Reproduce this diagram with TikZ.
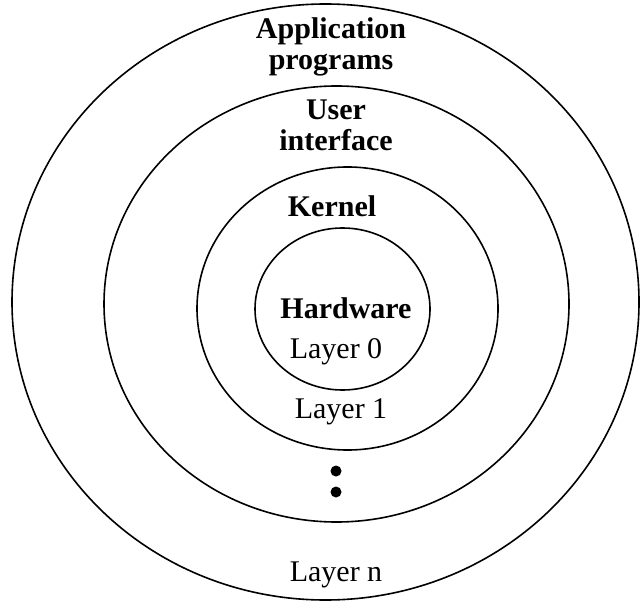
\documentclass[tikz,border=0pt]{standalone}
\usepackage{fontspec}
\setmainfont{Liberation Serif}
\begin{document}
\begin{tikzpicture}[x=0.5pt, y=-0.5pt,
    ring/.style={line width=0.8pt},
    heading/.style={font=\fontsize{15}{18}\selectfont\bfseries, inner sep=0pt, anchor=base},
    layer/.style={font=\fontsize{15}{18}\selectfont, inner sep=0pt, anchor=base},
    dot/.style={circle, fill, inner sep=0pt, minimum size=5.5pt}]
    \useasboundingbox (0,0) rectangle (640,603);

    % Draw rings, outer to inner
    \draw[ring] (325.5,302) ellipse [x radius=156.75pt, y radius=149pt];
    \draw[ring] (336.5,304) ellipse [x radius=116.25pt, y radius=109pt];
    \draw[ring] (347.5,308.5) ellipse [x radius=75.25pt, y radius=70.75pt];
    \draw[ring] (342.5,309) ellipse [x radius=43.75pt, y radius=40.5pt];

    % Draw ring titles
    \node[heading] (app) at (331,38.7) {Application};
    \node[heading] (prog) at (331,70) {programs};
    \node[heading] (user) at (336,119.6) {User};
    \node[heading] (iface) at (336,151) {interface};
    \node[heading] (kernel) at (332,216.6) {Kernel};
    \node[heading] (hw) at (346,318) {Hardware};

    % Draw layer numbers
    \node[layer] (l0) at (336,358) {Layer 0};
    \node[layer] (l1) at (341,418) {Layer 1};
    \node[dot] (d1) at (336,471) {};
    \node[dot] (d2) at (336,492) {};
    \node[layer] (ln) at (336,581) {Layer n};
\end{tikzpicture}
\end{document}
